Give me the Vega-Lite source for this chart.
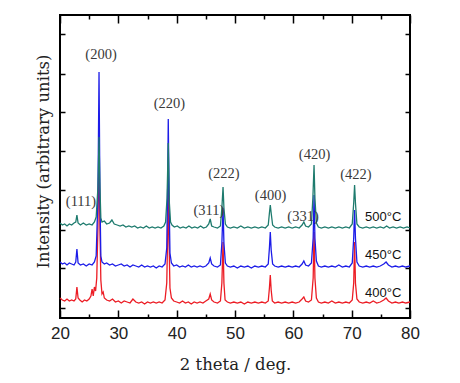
{
"$schema":"https://vega.github.io/schema/vega-lite/v6.json",
"width":350,"height":303,"autosize":"none",
"padding":{"left":60,"top":15,"right":50,"bottom":65},
"background":"white",
"config":{"view":{"stroke":"black","strokeWidth":2},"axis":{"domain":false,"grid":false,"tickColor":"black","tickWidth":1.5,"labelFlush":false,"labelOverlap":false}},
"datasets":{
"red":[{"x":20.0,"y":20},{"x":20.4,"y":18},{"x":20.8,"y":17},{"x":21.2,"y":19},{"x":21.6,"y":17},{"x":22.0,"y":18},{"x":22.4,"y":17},{"x":22.7,"y":19},{"x":22.9,"y":31},{"x":23.1,"y":20},{"x":23.4,"y":18},{"x":23.8,"y":16},{"x":24.2,"y":18},{"x":24.6,"y":17},{"x":25.0,"y":19},{"x":25.3,"y":22},{"x":25.5,"y":29},{"x":25.7,"y":22},{"x":25.9,"y":31},{"x":26.1,"y":27},{"x":26.3,"y":40},{"x":26.5,"y":90},{"x":26.69,"y":168},{"x":26.85,"y":90},{"x":27.0,"y":38},{"x":27.2,"y":24},{"x":27.4,"y":26},{"x":27.6,"y":20},{"x":28.0,"y":18},{"x":28.5,"y":17},{"x":29.0,"y":19},{"x":29.5,"y":16},{"x":30.0,"y":17},{"x":30.5,"y":15},{"x":31.0,"y":17},{"x":31.5,"y":16},{"x":32.0,"y":15},{"x":32.5,"y":19},{"x":33.0,"y":16},{"x":33.5,"y":15},{"x":34.0,"y":16},{"x":34.5,"y":14},{"x":35.0,"y":16},{"x":35.5,"y":15},{"x":36.0,"y":16},{"x":36.5,"y":15},{"x":37.0,"y":16},{"x":37.5,"y":15},{"x":38.0,"y":18},{"x":38.3,"y":35},{"x":38.45,"y":80},{"x":38.56,"y":143},{"x":38.7,"y":75},{"x":38.85,"y":30},{"x":39.1,"y":20},{"x":39.5,"y":17},{"x":40.0,"y":16},{"x":40.5,"y":15},{"x":41.0,"y":17},{"x":41.5,"y":15},{"x":42.0,"y":16},{"x":42.5,"y":14},{"x":43.0,"y":16},{"x":43.5,"y":15},{"x":44.0,"y":16},{"x":44.5,"y":15},{"x":45.0,"y":17},{"x":45.5,"y":19},{"x":45.75,"y":24},{"x":46.0,"y":18},{"x":46.4,"y":16},{"x":47.0,"y":15},{"x":47.5,"y":17},{"x":47.75,"y":35},{"x":47.95,"y":76},{"x":48.1,"y":35},{"x":48.3,"y":18},{"x":48.7,"y":16},{"x":49.2,"y":15},{"x":49.8,"y":16},{"x":50.4,"y":15},{"x":51.0,"y":16},{"x":51.6,"y":14},{"x":52.2,"y":16},{"x":52.8,"y":15},{"x":53.4,"y":16},{"x":54.0,"y":15},{"x":54.6,"y":16},{"x":55.2,"y":15},{"x":55.7,"y":17},{"x":55.9,"y":30},{"x":56.05,"y":43},{"x":56.2,"y":28},{"x":56.4,"y":17},{"x":56.8,"y":15},{"x":57.4,"y":16},{"x":58.0,"y":15},{"x":58.6,"y":16},{"x":59.2,"y":15},{"x":59.8,"y":16},{"x":60.4,"y":15},{"x":61.0,"y":16},{"x":61.5,"y":19},{"x":61.8,"y":21},{"x":62.1,"y":17},{"x":62.6,"y":16},{"x":63.1,"y":18},{"x":63.4,"y":40},{"x":63.55,"y":86},{"x":63.7,"y":40},{"x":63.95,"y":20},{"x":64.3,"y":16},{"x":64.8,"y":15},{"x":65.4,"y":16},{"x":66.0,"y":15},{"x":66.6,"y":17},{"x":67.2,"y":15},{"x":67.8,"y":16},{"x":68.4,"y":15},{"x":69.0,"y":16},{"x":69.6,"y":15},{"x":70.1,"y":18},{"x":70.35,"y":35},{"x":70.5,"y":76},{"x":70.65,"y":35},{"x":70.9,"y":19},{"x":71.3,"y":16},{"x":71.9,"y":15},{"x":72.5,"y":16},{"x":73.1,"y":15},{"x":73.7,"y":17},{"x":74.3,"y":15},{"x":74.9,"y":16},{"x":75.5,"y":18},{"x":75.9,"y":20},{"x":76.3,"y":17},{"x":76.9,"y":15},{"x":77.5,"y":16},{"x":78.1,"y":15},{"x":78.7,"y":16},{"x":79.3,"y":15},{"x":80.0,"y":16}],
"blue":[{"x":20.0,"y":56},{"x":20.4,"y":54},{"x":20.8,"y":55},{"x":21.2,"y":53},{"x":21.6,"y":55},{"x":22.0,"y":54},{"x":22.4,"y":53},{"x":22.7,"y":56},{"x":22.9,"y":69},{"x":23.1,"y":55},{"x":23.5,"y":53},{"x":24.0,"y":54},{"x":24.5,"y":52},{"x":25.0,"y":54},{"x":25.5,"y":53},{"x":25.9,"y":56},{"x":26.2,"y":62},{"x":26.5,"y":120},{"x":26.69,"y":246},{"x":26.85,"y":120},{"x":27.0,"y":62},{"x":27.2,"y":56},{"x":27.6,"y":54},{"x":28.0,"y":55},{"x":28.5,"y":53},{"x":29.0,"y":54},{"x":29.5,"y":52},{"x":30.0,"y":53},{"x":30.5,"y":54},{"x":31.0,"y":52},{"x":31.5,"y":53},{"x":32.0,"y":51},{"x":32.5,"y":53},{"x":33.0,"y":52},{"x":33.5,"y":51},{"x":34.0,"y":53},{"x":34.5,"y":51},{"x":35.0,"y":52},{"x":35.5,"y":51},{"x":36.0,"y":52},{"x":36.5,"y":50},{"x":37.0,"y":52},{"x":37.5,"y":51},{"x":38.0,"y":54},{"x":38.3,"y":70},{"x":38.45,"y":130},{"x":38.56,"y":199},{"x":38.7,"y":120},{"x":38.85,"y":65},{"x":39.1,"y":55},{"x":39.5,"y":52},{"x":40.0,"y":53},{"x":40.5,"y":51},{"x":41.0,"y":52},{"x":41.5,"y":51},{"x":42.0,"y":53},{"x":42.5,"y":51},{"x":43.0,"y":52},{"x":43.5,"y":51},{"x":44.0,"y":52},{"x":44.5,"y":51},{"x":45.0,"y":52},{"x":45.5,"y":55},{"x":45.75,"y":60},{"x":46.0,"y":54},{"x":46.4,"y":52},{"x":47.0,"y":51},{"x":47.5,"y":53},{"x":47.75,"y":75},{"x":47.95,"y":110},{"x":48.1,"y":75},{"x":48.35,"y":55},{"x":48.7,"y":52},{"x":49.2,"y":51},{"x":49.8,"y":52},{"x":50.4,"y":50},{"x":51.0,"y":52},{"x":51.6,"y":51},{"x":52.2,"y":52},{"x":52.8,"y":50},{"x":53.4,"y":52},{"x":54.0,"y":51},{"x":54.6,"y":52},{"x":55.2,"y":51},{"x":55.7,"y":54},{"x":55.9,"y":70},{"x":56.05,"y":86},{"x":56.2,"y":68},{"x":56.45,"y":54},{"x":56.8,"y":52},{"x":57.4,"y":51},{"x":58.0,"y":52},{"x":58.6,"y":51},{"x":59.2,"y":52},{"x":59.8,"y":51},{"x":60.4,"y":52},{"x":61.0,"y":51},{"x":61.5,"y":54},{"x":61.8,"y":57},{"x":62.1,"y":53},{"x":62.6,"y":52},{"x":63.1,"y":55},{"x":63.4,"y":80},{"x":63.55,"y":123},{"x":63.7,"y":80},{"x":63.95,"y":57},{"x":64.3,"y":52},{"x":64.8,"y":51},{"x":65.4,"y":52},{"x":66.0,"y":51},{"x":66.6,"y":52},{"x":67.2,"y":51},{"x":67.8,"y":53},{"x":68.4,"y":51},{"x":69.0,"y":52},{"x":69.6,"y":51},{"x":70.1,"y":55},{"x":70.35,"y":80},{"x":70.5,"y":108},{"x":70.65,"y":80},{"x":70.9,"y":56},{"x":71.3,"y":52},{"x":71.9,"y":51},{"x":72.5,"y":52},{"x":73.1,"y":51},{"x":73.7,"y":52},{"x":74.3,"y":51},{"x":74.9,"y":52},{"x":75.5,"y":54},{"x":75.9,"y":56},{"x":76.3,"y":53},{"x":76.9,"y":51},{"x":77.5,"y":52},{"x":78.1,"y":51},{"x":78.7,"y":52},{"x":79.3,"y":51},{"x":80.0,"y":52}],
"green":[{"x":20.0,"y":95},{"x":20.4,"y":93},{"x":20.8,"y":94},{"x":21.2,"y":92},{"x":21.6,"y":94},{"x":22.0,"y":93},{"x":22.4,"y":95},{"x":22.7,"y":96},{"x":22.9,"y":103},{"x":23.1,"y":95},{"x":23.5,"y":93},{"x":24.0,"y":95},{"x":24.5,"y":93},{"x":25.0,"y":94},{"x":25.5,"y":93},{"x":25.9,"y":96},{"x":26.2,"y":101},{"x":26.5,"y":130},{"x":26.69,"y":181},{"x":26.85,"y":130},{"x":27.0,"y":100},{"x":27.2,"y":96},{"x":27.6,"y":97},{"x":28.0,"y":94},{"x":28.5,"y":95},{"x":28.9,"y":98},{"x":29.3,"y":94},{"x":29.8,"y":93},{"x":30.3,"y":92},{"x":30.8,"y":93},{"x":31.3,"y":91},{"x":31.8,"y":92},{"x":32.3,"y":91},{"x":32.8,"y":92},{"x":33.3,"y":90},{"x":33.8,"y":91},{"x":34.3,"y":90},{"x":34.8,"y":92},{"x":35.3,"y":90},{"x":35.8,"y":91},{"x":36.3,"y":90},{"x":36.8,"y":91},{"x":37.3,"y":90},{"x":37.8,"y":92},{"x":38.1,"y":96},{"x":38.35,"y":120},{"x":38.56,"y":175},{"x":38.75,"y":115},{"x":38.95,"y":96},{"x":39.2,"y":93},{"x":39.6,"y":91},{"x":40.1,"y":92},{"x":40.6,"y":90},{"x":41.1,"y":91},{"x":41.6,"y":90},{"x":42.1,"y":92},{"x":42.6,"y":90},{"x":43.1,"y":91},{"x":43.6,"y":90},{"x":44.1,"y":92},{"x":44.6,"y":90},{"x":45.1,"y":91},{"x":45.5,"y":94},{"x":45.75,"y":99},{"x":46.0,"y":92},{"x":46.4,"y":91},{"x":47.0,"y":90},{"x":47.5,"y":92},{"x":47.75,"y":110},{"x":47.95,"y":131},{"x":48.1,"y":110},{"x":48.35,"y":94},{"x":48.7,"y":91},{"x":49.2,"y":90},{"x":49.8,"y":91},{"x":50.4,"y":90},{"x":51.0,"y":92},{"x":51.6,"y":90},{"x":52.2,"y":91},{"x":52.8,"y":90},{"x":53.4,"y":91},{"x":54.0,"y":90},{"x":54.6,"y":91},{"x":55.2,"y":90},{"x":55.7,"y":93},{"x":55.9,"y":105},{"x":56.05,"y":113},{"x":56.2,"y":105},{"x":56.45,"y":93},{"x":56.8,"y":91},{"x":57.4,"y":90},{"x":58.0,"y":91},{"x":58.6,"y":90},{"x":59.2,"y":91},{"x":59.8,"y":90},{"x":60.4,"y":91},{"x":61.0,"y":90},{"x":61.5,"y":93},{"x":61.8,"y":96},{"x":62.1,"y":92},{"x":62.6,"y":91},{"x":63.1,"y":94},{"x":63.35,"y":120},{"x":63.55,"y":153},{"x":63.7,"y":120},{"x":63.95,"y":95},{"x":64.3,"y":91},{"x":64.8,"y":90},{"x":65.4,"y":91},{"x":66.0,"y":90},{"x":66.6,"y":91},{"x":67.2,"y":90},{"x":67.8,"y":91},{"x":68.4,"y":90},{"x":69.0,"y":91},{"x":69.6,"y":90},{"x":70.1,"y":94},{"x":70.35,"y":115},{"x":70.5,"y":133},{"x":70.65,"y":115},{"x":70.9,"y":94},{"x":71.3,"y":91},{"x":71.9,"y":90},{"x":72.5,"y":91},{"x":73.1,"y":90},{"x":73.7,"y":91},{"x":74.3,"y":90},{"x":74.9,"y":91},{"x":75.5,"y":90},{"x":76.0,"y":92},{"x":76.5,"y":90},{"x":77.1,"y":91},{"x":77.7,"y":90},{"x":78.3,"y":91},{"x":78.9,"y":90},{"x":79.5,"y":91},{"x":80.0,"y":90}],
"peaks":[{"x":23.6,"y":116,"t":"(111)"},{"x":27.03,"y":263,"t":"(200)"},{"x":38.77,"y":214,"t":"(220)"},{"x":45.54,"y":107,"t":"(311)"},{"x":48.11,"y":144,"t":"(222)"},{"x":56.09,"y":122,"t":"(400)"},{"x":61.66,"y":101,"t":"(331)"},{"x":63.63,"y":163,"t":"(420)"},{"x":70.74,"y":143,"t":"(422)"}],
"temps":[{"x":72.3,"y":101,"t":"500°C"},{"x":72.3,"y":63,"t":"450°C"},{"x":72.3,"y":25,"t":"400°C"}]
},
"layer":[
{"data":{"name":"red"},"mark":{"type":"line","color":"#ec1c24","strokeWidth":1.3},
 "encoding":{
  "x":{"field":"x","type":"quantitative","scale":{"domain":[20,80],"nice":false,"zero":false},
   "axis":{"orient":"bottom","values":[20,30,40,50,60,70,80],"tickSize":-8,"labelPadding":15,"labelFont":"Liberation Sans","labelFontSize":17,"labelColor":"#222","title":"2 theta / deg.","titleFont":"DejaVu Serif","titleFontSize":16.5,"titleFontWeight":"normal","titleColor":"#222","titleY":51,"titleBaseline":"alphabetic"}},
  "y":{"field":"y","type":"quantitative","scale":{"domain":[0,303],"nice":false,"zero":false},
   "axis":{"orient":"left","values":[10,50,88,128,167,206,244,284],"tickSize":-5,"labels":false,"title":"Intensity (arbitrary units)","titleFont":"DejaVu Serif","titleFontSize":16.5,"titleFontWeight":"normal","titleColor":"#222","titleAngle":270,"titleX":-12,"titleY":146,"titleAlign":"center","titleBaseline":"alphabetic"}}}},
{"data":{"name":"blue"},"mark":{"type":"line","color":"#1c1ce8","strokeWidth":1.3},
 "encoding":{
  "x":{"field":"x","type":"quantitative","axis":{"orient":"bottom","values":[25,35,45,55,65,75],"tickSize":-4,"labels":false,"title":null}},
  "y":{"field":"y","type":"quantitative","axis":{"orient":"right","values":[10,50,88,128,167,206,244,284],"tickSize":-5,"labels":false,"title":null}}}},
{"data":{"name":"green"},"mark":{"type":"line","color":"#1e7b6e","strokeWidth":1.3},
 "encoding":{
  "x":{"field":"x","type":"quantitative","axis":{"orient":"top","values":[20,30,40,50,60,70,80],"tickSize":-8,"labels":false,"title":null}},
  "y":{"field":"y","type":"quantitative","axis":null}}},
{"data":{"name":"peaks"},"mark":{"type":"text","font":"Liberation Serif","fontSize":14.5,"color":"#3a3a3a","align":"center","baseline":"middle"},
 "encoding":{
  "x":{"field":"x","type":"quantitative","axis":{"orient":"top","values":[25,35,45,55,65,75],"tickSize":-4,"labels":false,"title":null}},
  "y":{"field":"y","type":"quantitative","axis":null},
  "text":{"field":"t"}}},
{"data":{"name":"temps"},"mark":{"type":"text","font":"Liberation Sans","fontSize":13,"color":"#111","align":"left","baseline":"middle"},
 "encoding":{
  "x":{"field":"x","type":"quantitative","axis":null},
  "y":{"field":"y","type":"quantitative","axis":null},
  "text":{"field":"t"}}}
],
"resolve":{"axis":{"x":"independent","y":"independent"}}
}
